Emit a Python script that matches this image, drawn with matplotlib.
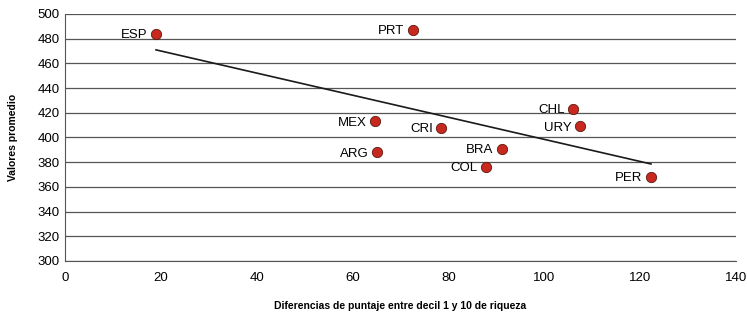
import matplotlib.pyplot as plt

plt.rcParams["font.family"] = ["Liberation Sans", "DejaVu Sans"]

countries = ["ESP", "PRT", "MEX", "ARG", "CRI", "BRA", "COL", "CHL", "URY", "PER"]
diff_x = [19.0, 72.6, 64.7, 65.1, 78.5, 91.2, 87.9, 106.0, 107.5, 122.3]
score_y = [484, 487, 413, 388, 408, 391, 376, 423, 409, 368]

trend_x = [19.0, 122.3]
trend_y = [470.9, 378.5]


def main():
    fig = plt.figure(figsize=(7.47, 3.17), dpi=100)
    ax = fig.add_axes([0.087, 0.177, 0.898, 0.779])

    ax.set_xlim(0, 140)
    ax.set_ylim(300, 500)
    ax.set_xticks(range(0, 141, 20))
    ax.set_yticks(range(300, 501, 20))
    ax.yaxis.grid(True, color="#555555", linewidth=0.9)
    ax.set_axisbelow(True)
    for s in ["top", "right"]:
        ax.spines[s].set_visible(False)
    ax.spines["left"].set_color("#555555")
    ax.spines["bottom"].set_color("#555555")
    ax.tick_params(length=0, labelsize=9.5, pad=4)
    ax.tick_params(axis="x", pad=8)

    ax.plot(trend_x, trend_y, color="#1a1a1a", linewidth=1.2, zorder=2)
    ax.scatter(diff_x, score_y, s=55, color="#c8281e", edgecolor="#5a1a10",
               linewidth=0.6, zorder=3)
    for name, x, y in zip(countries, diff_x, score_y):
        ax.annotate(name, (x, y), xytext=(-6, -1), textcoords="offset points",
                    ha="right", va="center", fontsize=9.5, zorder=4)

    ax.set_xlabel("Diferencias de puntaje entre decil 1 y 10 de riqueza",
                  fontsize=7.5, fontweight="bold", labelpad=12)
    ax.set_ylabel("Valores promedio", fontsize=7.5, fontweight="bold", labelpad=14)

    fig.savefig("out.png", dpi=100)


if __name__ == "__main__":
    main()
